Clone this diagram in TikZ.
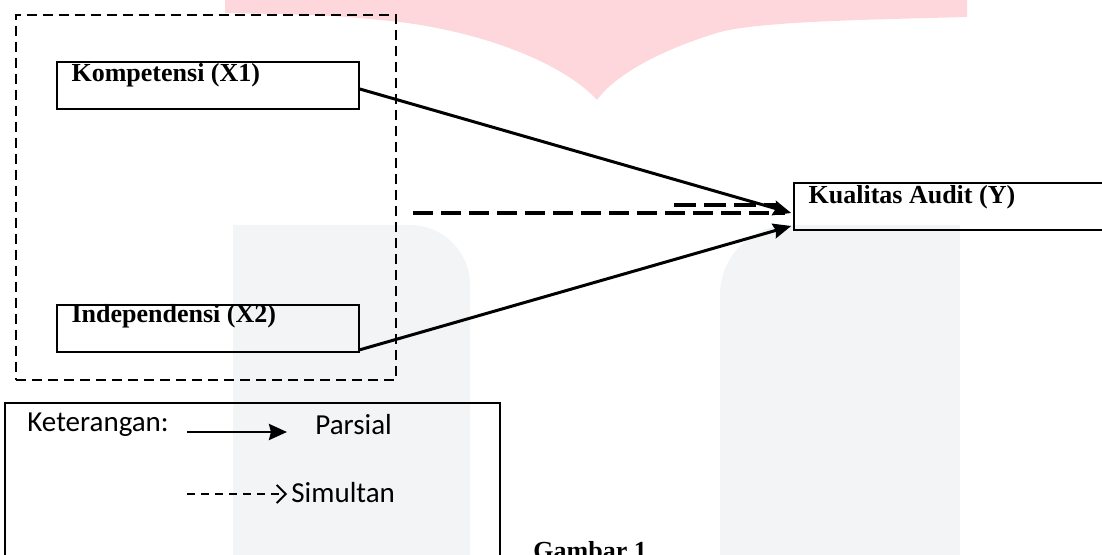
\documentclass[tikz,border=0pt]{standalone}
\usepackage{fontspec}
\setmainfont{Liberation Serif}
\newfontfamily\ketfont{Carlito}
\usetikzlibrary{arrows.meta,positioning}

\definecolor{wmpink}{HTML}{FDD7DC}
\definecolor{wmgray}{HTML}{F3F4F6}

\tikzset{
  varbox/.style={draw,rectangle,line width=0.8pt,inner sep=0pt,minimum height=23.5pt},
  vartext/.style={anchor=north west,inner sep=0pt,font=\bfseries\fontsize{13}{15}\selectfont},
  ketext/.style={anchor=west,inner sep=0pt,font=\ketfont\fontsize{14.5}{17}\selectfont},
  parsial/.style={line width=1.5pt,-{Stealth[length=9pt,width=7.5pt,inset=1pt]}},
  simultan/.style={line width=1.8pt,dash pattern=on 10pt off 4pt},
}

\begin{document}
\begin{tikzpicture}[x=0.5pt,y=-0.5pt]
  \useasboundingbox (0,0) rectangle (1102,555);
  % watermark
  \fill[wmpink] (225,0) -- (967,0) -- (967,17) .. controls (850,20) and (760,22) .. (720,32) .. controls (660,50) and (615,75) .. (597,100) .. controls (570,70) and (500,35) .. (400,22) .. controls (330,15) .. (225,13) -- cycle;
  \fill[wmgray] (233,620) -- (233,225) [rounded corners=30pt] -- (470,225) -- (470,620) [sharp corners] -- cycle;
  \fill[wmgray] (960,620) -- (960,225) [rounded corners=35pt] -- (720,225) -- (720,620) [sharp corners] -- cycle;

  % variabel
  \node[draw,line width=1.2pt,dash pattern=on 5pt off 3pt,inner sep=0pt,minimum width=190pt,minimum height=182.5pt] (grp) at (206,197.5) {};
  \node[varbox,minimum width=151pt] (kom) at (208,85.5) {};
  \node[vartext] (komlbl) at ([xshift=7.5pt,yshift=-1pt]kom.north west) {Kompetensi (X1)};
  \node[varbox,minimum width=151pt] (ind) at (208,328.5) {};
  \node[vartext] (indlbl) at ([xshift=7.5pt]ind.north west) {Independensi (X2)};
  \node[varbox,minimum width=160pt] (kual) at (954,206.5) {};
  \node[vartext] (kuallbl) at ([xshift=7.5pt,yshift=-1.5pt]kual.north west) {Kualitas Audit (Y)};

  % hubungan
  \draw[simultan] ([xshift=8pt,yshift=-7.75pt]grp.east) -- ([xshift=-4pt,yshift=-3.25pt]kual.west);
  \draw[simultan,dash pattern=on 11pt off 4pt] ([xshift=-59.5pt,yshift=0.75pt]kual.west) -- ([xshift=-7pt,yshift=0.75pt]kual.west);
  \draw[parsial] ([yshift=-1.75pt]kom.east) -- ([xshift=-1pt,yshift=-3.25pt]kual.west);
  \draw[parsial] ([yshift=1.5pt]ind.south east) -- ([xshift=-1pt,yshift=-9.75pt]kual.west);

  % keterangan
  \node[draw,line width=0.8pt,inner sep=0pt,minimum width=247.5pt,minimum height=98.5pt] (ket) at (252.5,501.5) {};
  \node[ketext] (ketlbl) at (27,425) {Keterangan:};
  \node[ketext] (par) at (315,425) {Parsial};
  \node[ketext] (sim) at (291,493) {Simultan};
  \coordinate (parA) at (187,432);
  \coordinate (parB) at (287,432);
  \coordinate (simA) at (187,494);
  \draw[line width=1.4pt,-{Stealth[length=9pt,width=8pt,inset=1pt]}] (parA) -- (parB);
  \draw[line width=0.9pt,dash pattern=on 4pt off 3pt,-{Straight Barb[length=4.5pt,width=9pt]}] (simA) -- ([xshift=-2pt,yshift=-0.5pt]sim.west);

  \node[vartext] (gbr) at (533,541) {Gambar 1};
\end{tikzpicture}
\end{document}
